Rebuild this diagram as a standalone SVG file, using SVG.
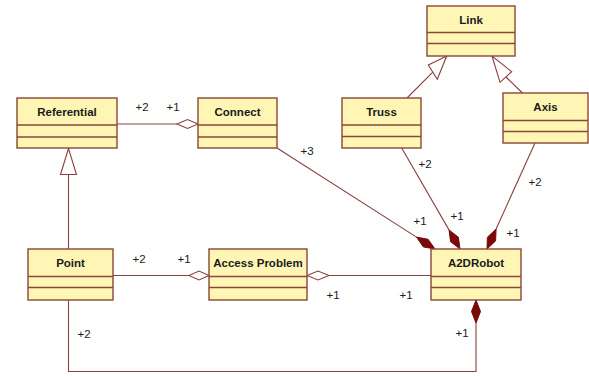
<svg xmlns="http://www.w3.org/2000/svg" width="589" height="376" viewBox="0 0 589 376">
<style>
.box rect{fill:#fff6b6;stroke:#8a4636;stroke-width:1.4}
.box line{stroke:#8a4636;stroke-width:1.4}
.name{font-family:"Liberation Sans",Arial,sans-serif;font-weight:bold;font-size:11.5px;fill:#1a1a1a;text-anchor:middle}
.lbl{font-family:"Liberation Sans",Arial,sans-serif;font-size:11.5px;fill:#1a1a1a;text-anchor:middle}
#connectors line,#connectors polyline{stroke:#8b3f3f;stroke-width:1.1;fill:none}
.hollow{fill:#ffffff;stroke:#8b3f3f;stroke-width:1.1}
.filled{fill:#7a0a0a;stroke:#7a0a0a;stroke-width:1}
</style>
<rect width="589" height="376" fill="#ffffff"/>
<g id="connectors">
  <line x1="117" y1="124" x2="177" y2="124"/>
  <polygon class="hollow" points="198,124 187.5,119.5 177,124 187.5,128.5"/>
  <line x1="68.5" y1="249" x2="68.5" y2="174.5"/>
  <polygon class="hollow" points="68.5,148.5 60.5,174.5 76.5,174.5"/>
  <line x1="407" y1="98" x2="432.8" y2="72.2"/>
  <polygon class="hollow" points="446.7,56 428.3,65 437.3,79.3"/>
  <line x1="522.5" y1="93" x2="506" y2="77"/>
  <polygon class="hollow" points="492,56 500,82.3 511.7,71.7"/>
  <line x1="277" y1="148" x2="416.5" y2="237.1"/>
  <polygon class="filled" points="435,249 423.3,246.9 416.5,237.1 428.1,239.3"/>
  <line x1="401.7" y1="148" x2="449" y2="229.9"/>
  <polygon class="filled" points="460,249 450.6,241.7 449,229.9 458.4,237.2"/>
  <line x1="535" y1="143" x2="496.1" y2="229"/>
  <polygon class="filled" points="487,249 495.6,240.9 496.1,229 487.4,237.2"/>
  <line x1="329" y1="275.5" x2="431" y2="275.5"/>
  <polygon class="hollow" points="307,275.5 318,271 329,275.5 318,280"/>
  <line x1="113" y1="275.5" x2="189" y2="275.5"/>
  <polygon class="hollow" points="209,275.5 199,271 189,275.5 199,280"/>
  <polyline points="68.5,300 68.5,371.5 476,371.5 476,323"/>
  <polygon class="filled" points="476,300 471.5,311.5 476,323 480.5,311.5"/>
  <text class="lbl" x="142" y="111">+2</text>
  <text class="lbl" x="173" y="111">+1</text>
  <text class="lbl" x="307" y="155">+3</text>
  <text class="lbl" x="425" y="168">+2</text>
  <text class="lbl" x="535" y="186">+2</text>
  <text class="lbl" x="420" y="225">+1</text>
  <text class="lbl" x="457" y="220">+1</text>
  <text class="lbl" x="513" y="237">+1</text>
  <text class="lbl" x="333" y="299">+1</text>
  <text class="lbl" x="406" y="299">+1</text>
  <text class="lbl" x="462" y="337">+1</text>
  <text class="lbl" x="84" y="338">+2</text>
  <text class="lbl" x="139" y="262.5">+2</text>
  <text class="lbl" x="184" y="262.5">+1</text>
</g>
<g id="Referential" class="box">
  <rect x="17" y="98" width="100" height="50"/>
  <line x1="17" y1="125" x2="117" y2="125"/>
  <line x1="17" y1="137" x2="117" y2="137"/>
  <text class="name" x="67" y="116">Referential</text>
</g>
<g id="Connect" class="box">
  <rect x="198" y="98" width="79" height="50"/>
  <line x1="198" y1="125" x2="277" y2="125"/>
  <line x1="198" y1="137" x2="277" y2="137"/>
  <text class="name" x="237.5" y="116">Connect</text>
</g>
<g id="Link" class="box">
  <rect x="427" y="6" width="88" height="50"/>
  <line x1="427" y1="32.5" x2="515" y2="32.5"/>
  <line x1="427" y1="43.5" x2="515" y2="43.5"/>
  <text class="name" x="471" y="24">Link</text>
</g>
<g id="Truss" class="box">
  <rect x="342" y="98" width="79" height="50"/>
  <line x1="342" y1="125" x2="421" y2="125"/>
  <line x1="342" y1="136.5" x2="421" y2="136.5"/>
  <text class="name" x="381.5" y="116">Truss</text>
</g>
<g id="Axis" class="box">
  <rect x="503" y="93" width="85" height="50"/>
  <line x1="503" y1="120.5" x2="588" y2="120.5"/>
  <line x1="503" y1="131.5" x2="588" y2="131.5"/>
  <text class="name" x="545.5" y="111">Axis</text>
</g>
<g id="Point" class="box">
  <rect x="28" y="249" width="85" height="51"/>
  <line x1="28" y1="276.5" x2="113" y2="276.5"/>
  <line x1="28" y1="287.5" x2="113" y2="287.5"/>
  <text class="name" x="70.5" y="267">Point</text>
</g>
<g id="AccessProblem" class="box">
  <rect x="209" y="249" width="98" height="51"/>
  <line x1="209" y1="276.5" x2="307" y2="276.5"/>
  <line x1="209" y1="287.5" x2="307" y2="287.5"/>
  <text class="name" x="258" y="267">Access Problem</text>
</g>
<g id="A2DRobot" class="box">
  <rect x="431" y="249" width="90" height="51"/>
  <line x1="431" y1="276.5" x2="521" y2="276.5"/>
  <line x1="431" y1="287.5" x2="521" y2="287.5"/>
  <text class="name" x="476" y="267">A2DRobot</text>
</g>
</svg>
